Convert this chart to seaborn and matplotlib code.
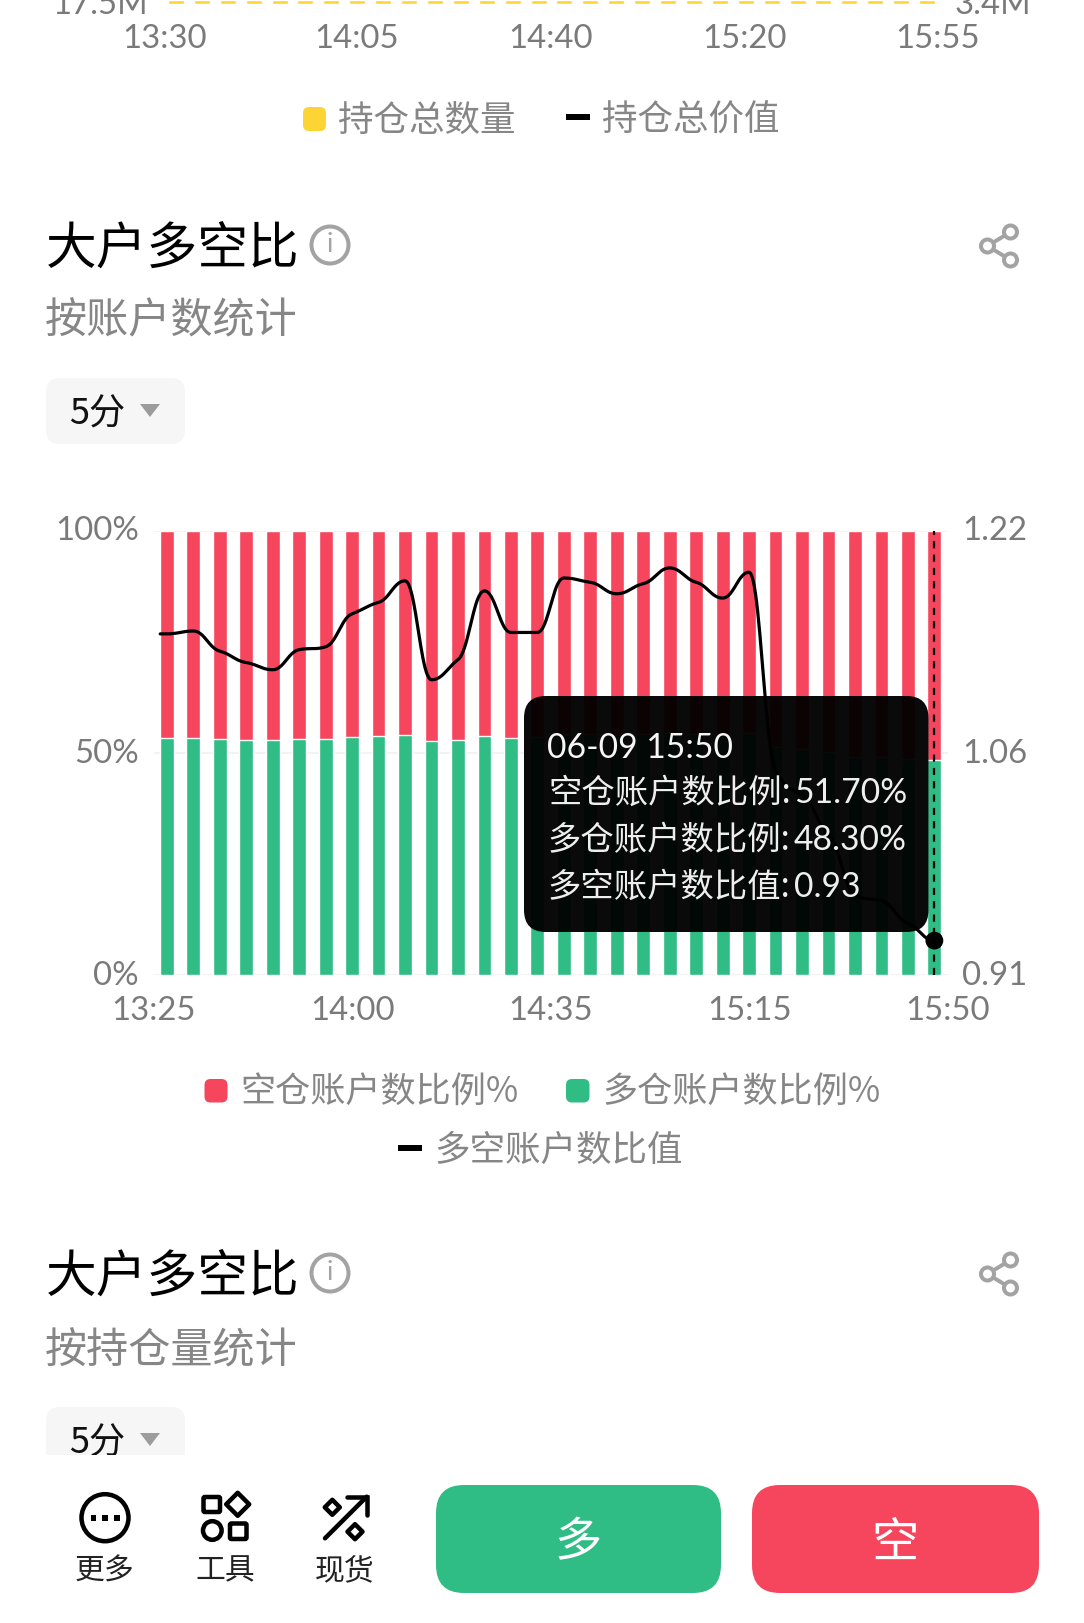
import numpy as np
import pandas as pd
import matplotlib
matplotlib.use("Agg")
import matplotlib.pyplot as plt
from matplotlib.patches import FancyBboxPatch, Circle, Polygon, Rectangle
from matplotlib.transforms import ScaledTranslation
import seaborn as sns

# ---- data ----
times = ["13:25", "13:30", "13:35", "13:40", "13:45", "13:50", "13:55", "14:00", "14:05", "14:10",
         "14:15", "14:20", "14:25", "14:30", "14:35", "14:40", "14:45", "14:50", "14:55", "15:00",
         "15:05", "15:10", "15:15", "15:20", "15:25", "15:30", "15:35", "15:40", "15:45", "15:50"]
long_pct = [53.3, 53.3, 53.1, 52.9, 52.8, 53.1, 53.2, 53.6, 53.8, 54.1,
            52.6, 52.9, 53.9, 53.3, 53.5, 54.3, 54.2, 54.0, 54.2, 54.4,
            54.2, 54.0, 54.4, 51.3, 50.9, 50.2, 49.1, 49.0, 48.6, 48.3]
short_pct = [46.7, 46.7, 46.9, 47.1, 47.2, 46.9, 46.8, 46.4, 46.2, 45.9,
             47.4, 47.1, 46.1, 46.7, 46.5, 45.7, 45.8, 46.0, 45.8, 45.6,
             45.8, 46.0, 45.6, 48.7, 49.1, 49.8, 50.9, 51.0, 51.4, 51.7]
ratio = [1.148, 1.150, 1.136, 1.128, 1.123, 1.137, 1.139, 1.162, 1.170, 1.185,
         1.116, 1.130, 1.178, 1.149, 1.149, 1.187, 1.184, 1.176, 1.183, 1.194,
         1.184, 1.173, 1.191, 1.053, 1.036, 1.008, 0.966, 0.962, 0.946, 0.934]
pct_ticks = [0, 50, 100]
pct_labels = ["0%", "50%", "100%"]
ratio_ticks = [0.91, 1.065, 1.22]
ratio_labels = ["0.91", "1.06", "1.22"]
x_tick_pos = [-0.5, 7, 14.5, 22, 29.5]
x_tick_labels = ["13:25", "14:00", "14:35", "15:15", "15:50"]
upper_x_labels = ["13:30", "14:05", "14:40", "15:20", "15:55"]
upper_bar_stub = [1] * 30

RED = "#F6465D"
GREEN = "#2FBD85"
YELLOW = "#FCD535"
AXIS_GREY = "#7a7a7a"
LEGEND_GREY = "#868686"
ICON_GREY = "#a3a3a3"
TICK_SIZE = 23.7

W, H = 1084, 1623
sns.set_theme(style="white")
LATIN = ["Lato", "DejaVu Sans"]
CJK = ["Noto Sans CJK SC", "DejaVu Sans"]
plt.rcParams["font.family"] = LATIN
plt.rcParams["axes.unicode_minus"] = False

fig = plt.figure(figsize=(W / 100, H / 100), dpi=100, facecolor="white")


def px_axes(left, top, right, bottom, **kw):
    """Axes placed by pixel edges, measured from the top-left corner."""
    return fig.add_axes([left / W, 1 - bottom / H, (right - left) / W, (bottom - top) / H], **kw)


def smooth_curve(y, handle=0.42, damp=0.45, samples=24):
    """Cubic Bezier segments through the points, flat at local extrema."""
    y = np.asarray(y, float)
    slope = np.zeros_like(y)
    for k in range(1, len(y) - 1):
        a, b = y[k] - y[k - 1], y[k + 1] - y[k]
        if a * b > 0:
            slope[k] = damp * (a + b) / 2
    t = np.linspace(0, 1, samples)[:, None]
    xs, ys = [], []
    for k in range(len(y) - 1):
        p0 = np.array([k, y[k]])
        p3 = np.array([k + 1, y[k + 1]])
        p1 = p0 + handle * np.array([1, slope[k]])
        p2 = p3 - handle * np.array([1, slope[k + 1]])
        pts = (1 - t) ** 3 * p0 + 3 * (1 - t) ** 2 * t * p1 + 3 * (1 - t) * t ** 2 * p2 + t ** 3 * p3
        xs.append(pts[:, 0])
        ys.append(pts[:, 1])
    return np.concatenate(xs), np.concatenate(ys)


def nudge_up(tick_labels, points):
    """Shift tick labels vertically by a fixed number of points."""
    for lab in tick_labels:
        lab.set_transform(lab.get_transform() + ScaledTranslation(0, points / 72, fig.dpi_scale_trans))


# ---- lower edge of the chart above, cut by the top of the screen ----
ax_up = px_axes(163, 0, 940, 4.2)
sns.barplot(x=list(range(30)), y=upper_bar_stub, color=YELLOW, saturation=1, width=0.62, ax=ax_up)
ax_up.set_ylim(0, 1)
ax_up.axis("off")

# ---- stacked account ratio bars ----
ax = px_axes(153.6, 530.7, 947.6, 975)
ax.set_axisbelow(True)
df = pd.DataFrame({"time": times, "long": long_pct, "short": short_pct})
df["total"] = df["long"] + df["short"]
sns.barplot(data=df, x="time", y="total", color=RED, saturation=1, width=0.52, ax=ax)
sns.barplot(data=df, x="time", y="long", color=GREEN, saturation=1, width=0.52, ax=ax)
ax.set_xlim(-0.5, 29.5)
ax.set_ylim(0, 100)
ax.set_xlabel("")
ax.set_ylabel("")
ax.set_yticks(pct_ticks, pct_labels)
ax.set_xticks(x_tick_pos, x_tick_labels)
ax.tick_params(axis="x", length=0, pad=15, labelsize=TICK_SIZE, labelcolor=AXIS_GREY)
ax.tick_params(axis="y", length=0, pad=10.5, labelsize=TICK_SIZE, labelcolor=AXIS_GREY)
nudge_up(ax.get_yticklabels(), 1.6)
ax.grid(axis="y", color="#f1f1f1", lw=1.2)
ax.grid(axis="x", visible=False)
sns.despine(ax=ax, left=True, bottom=True)
ax.patch.set_alpha(0)

# ---- long/short ratio on the right scale ----
ax2 = ax.twinx()
curve_x, curve_y = smooth_curve(ratio)
curve_x = np.r_[-0.25, curve_x]
curve_y = np.r_[ratio[0], curve_y]
sns.lineplot(x=curve_x, y=curve_y, color="black", lw=2.3, estimator=None, sort=False, ax=ax2)
ax2.set_ylim(0.91, 1.22)
ax2.set_yticks(ratio_ticks, ratio_labels)
ax2.tick_params(axis="y", length=0, pad=10.5, labelsize=TICK_SIZE, labelcolor=AXIS_GREY)
nudge_up(ax2.get_yticklabels(), 1.6)
ax2.set_ylabel("")
ax2.grid(False)
sns.despine(ax=ax2, left=True, bottom=True, right=True)
ax2.patch.set_alpha(0)

# ---- screen furniture, in pixel coordinates ----
ov = fig.add_axes([0, 0, 1, 1], zorder=10)
ov.set_xlim(0, W)
ov.set_ylim(H, 0)
ov.axis("off")
ov.patch.set_alpha(0)

PT = 0.72  # stroke widths below are given in pixels


def rbox(x0, y0, x1, y1, r, color, alpha=1.0, z=2):
    p = FancyBboxPatch((x0 + r, y0 + r), x1 - x0 - 2 * r, y1 - y0 - 2 * r,
                       boxstyle=f"round,pad={r},rounding_size={r}",
                       fc=color, ec="none", alpha=alpha, zorder=z, mutation_aspect=1)
    ov.add_patch(p)


def cjk(x, y, s, size, color=LEGEND_GREY, ha="left", weight="light", z=4):
    # the CJK face sits high in its line box, so the centre is lowered with the size
    ov.text(x, y + 0.15 * size, s, fontsize=size, color=color, ha=ha, va="center",
            fontweight=weight, family=CJK, zorder=z)


def latin(x, y, s, size, color=AXIS_GREY, ha="left", z=4):
    ov.text(x, y, s, fontsize=size, color=color, ha=ha, va="center", family=LATIN, zorder=z)


def diamond(cx, cy, d, z=6):
    ov.add_patch(Polygon([(cx, cy - d), (cx + d, cy), (cx, cy + d), (cx - d, cy)], closed=True,
                         fc="none", ec="black", lw=4.5 * PT, zorder=z, joinstyle="round"))


def section_header(y_title, y_sub, subtitle, y_box):
    cjk(46, y_title, "大户多空比", 36.5, color="black", weight="medium")
    ov.add_patch(Circle((330, y_title), 18.5, fc="none", ec=ICON_GREY, lw=4 * PT, zorder=3))
    ov.text(330, y_title, "i", fontsize=19, color=ICON_GREY, ha="center", va="center", zorder=3)
    nodes = [(987.5, y_title + 1), (1010.5, y_title - 13), (1010.5, y_title + 15)]
    for n in nodes[1:]:
        ov.plot([nodes[0][0], n[0]], [nodes[0][1], n[1]], color=ICON_GREY, lw=4 * PT, zorder=3)
    for n in nodes:
        ov.add_patch(Circle(n, 6.5, fc="white", ec=ICON_GREY, lw=4 * PT, zorder=3))
    cjk(45, y_sub, subtitle, 30.3)
    rbox(46, y_box, 185, y_box + 66, 14, "#f6f6f6")
    cjk(69, y_box + 33, "5分", 26, color="#111111", weight="medium")
    ov.add_patch(Polygon([(140, y_box + 26), (160, y_box + 26), (150, y_box + 39)], closed=True,
                         fc="#9c9c9c", ec="none", zorder=3))


# upper chart leftovers
latin(148, 5, "17.5M", TICK_SIZE, ha="right")
latin(955, 5, "3.4M", TICK_SIZE)
for xp, s in zip([164.6, 357, 551, 744.5, 938], upper_x_labels):
    latin(xp, 39, s, TICK_SIZE, ha="center")
rbox(303, 107, 326, 131, 6, YELLOW)
cjk(338, 117, "持仓总数量", 25.6)
ov.add_patch(Rectangle((566, 114), 24, 6, fc="black", ec="none", zorder=3))
cjk(602, 117, "持仓总价值", 25.6)

section_header(245, 317, "按账户数统计", 378)
section_header(1273, 1347, "按持仓量统计", 1407)

# legend of the ratio chart
rbox(204.5, 1079, 227.5, 1102.5, 6, RED)
cjk(240, 1089, "空仓账户数比例%", 25.3)
rbox(566, 1079, 589.5, 1102.5, 6, GREEN)
cjk(602, 1089, "多仓账户数比例%", 25.3)
ov.add_patch(Rectangle((398, 1145), 24, 6, fc="black", ec="none", zorder=3))
cjk(434, 1147, "多空账户数比值", 25.6)

# tooltip, crosshair and highlighted point
TIP_TEXT = "#eeeeee"
rbox(524, 696, 928.5, 932, 22, "#000000", alpha=0.96, z=5)
latin(547, 748, "06-09 15:50", 24.2, color="#f6f6f6", z=6)
tooltip_rows = [(791, "空仓账户数比例:", f"{short_pct[-1]:.2f}%"),
                (838, "多仓账户数比例:", f"{long_pct[-1]:.2f}%"),
                (885, "多空账户数比值:", f"{ratio[-1]:.2f}")]
for yp, name, value in tooltip_rows:
    cjk(548, yp - 1.5, name, 24, color=TIP_TEXT, z=6)
    latin(794, yp + 2, value, 24.2, color=TIP_TEXT, z=6)
ax2.plot([29, 29], [0.91, 1.22], color="black", lw=1.6, ls=(0, (3.2, 2.8)), zorder=6)
sns.scatterplot(x=[29], y=[ratio[-1]], color="black", s=165, edgecolor="none", ax=ax2, zorder=7)
ax2.set_ylim(0.91, 1.22)

# bottom navigation
ov.add_patch(Rectangle((0, 1455), W, H - 1455, fc="white", ec="none", zorder=5))
ov.add_patch(Circle((105, 1517.7), 23.5, fc="none", ec="black", lw=4.5 * PT, zorder=6))
for xp in (93.3, 105, 116.7):
    ov.add_patch(Rectangle((xp - 2.8, 1515), 5.6, 5.6, fc="black", ec="none", zorder=6))
for x0, y0, x1, y1 in ((203.5, 1497, 220, 1512), (230, 1523.5, 246.5, 1539)):
    ov.add_patch(FancyBboxPatch((x0, y0), x1 - x0, y1 - y0, boxstyle="round,pad=0,rounding_size=1.5",
                                fc="none", ec="black", lw=4.5 * PT, zorder=6))
diamond(237.7, 1504.3, 11.5)
ov.add_patch(Circle((212.3, 1530.5), 9.3, fc="none", ec="black", lw=4.5 * PT, zorder=6))
ov.plot([325, 366.7], [1538.3, 1496.7], color="black", lw=4.5 * PT, solid_capstyle="round", zorder=6)
ov.plot([347, 366.7, 366.7], [1496.7, 1496.7, 1515], color="black", lw=4.5 * PT,
        solid_capstyle="round", solid_joinstyle="miter", zorder=6)
diamond(332.3, 1507.3, 7.5)
diamond(355, 1531.7, 7.5)
cjk(105, 1568, "更多", 21.5, color="#222222", ha="center", z=6)
cjk(225, 1568, "工具", 21.5, color="#222222", ha="center", z=6)
cjk(345, 1568, "现货", 21.5, color="#222222", ha="center", z=6)
rbox(436, 1485, 721, 1593, 28, GREEN, z=6)
rbox(752, 1485, 1039, 1593, 28, RED, z=6)
cjk(578, 1538, "多", 34, color="white", ha="center", z=7)
cjk(895, 1538, "空", 34, color="white", ha="center", z=7)

fig.savefig("out.png", dpi=100, facecolor="white")
